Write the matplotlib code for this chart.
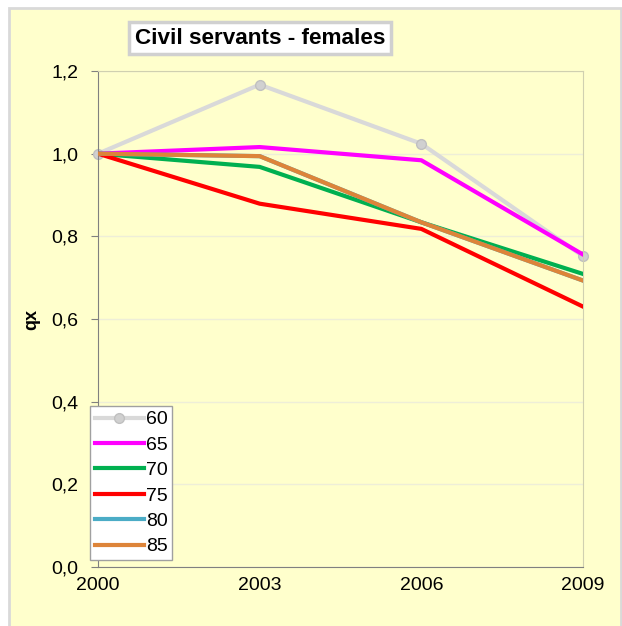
import matplotlib
matplotlib.use("Agg")
import matplotlib.pyplot as plt
from matplotlib.ticker import FuncFormatter

plt.rcParams['font.family'] = ['Liberation Sans', 'DejaVu Sans']

# data
years = [2000, 2003, 2006, 2009]
labels = ['60', '65', '70', '75', '80', '85']
q60 = [1.0, 1.167, 1.024, 0.752]
q65 = [1.0, 1.016, 0.984, 0.756]
q70 = [1.0, 0.968, 0.834, 0.709]
q75 = [1.0, 0.879, 0.818, 0.630]
q80 = [1.0, 0.994, 0.834, 0.693]
q85 = [1.0, 0.994, 0.834, 0.693]
colors = ['#D9D9D9', '#FF00FF', '#00B050', '#FF0000', '#4BACC6', '#DD8439']

bg = '#FFFFCC'
W, H = 622, 626
fig = plt.figure(figsize=(W / 100, H / 100), dpi=100, facecolor='white')

# yellow chart area with a thin grey frame (behind the axes)
fig.patches.append(plt.Rectangle((9 / W, -0.01), (621 - 9) / W, 1 - 8 / H + 0.01,
                                 transform=fig.transFigure, fc=bg,
                                 ec='#D9D9D9', lw=2, zorder=-10))

ax = fig.add_axes([98 / W, 1 - 567 / H, (583 - 98) / W, (567 - 71) / H])
ax.set_facecolor(bg)

series = [q60, q65, q70, q75, q80, q85]
for i, (lab, vals) in enumerate(zip(labels, series)):
    if i == 0:
        ax.plot(years, vals, color=colors[i], lw=3, marker='o', ms=7,
                mfc='#D0D0D0', mec='#C0C0C0', label=lab, zorder=2,
                clip_on=False)
    else:
        ax.plot(years, vals, color=colors[i], lw=3, label=lab, zorder=3)

ax.set_xlim(2000, 2009)
ax.set_ylim(0, 1.2)
ax.set_xticks(years)
ax.set_yticks([0, 0.2, 0.4, 0.6, 0.8, 1.0, 1.2])
ax.yaxis.set_major_formatter(FuncFormatter(lambda v, p: f"{v:.1f}".replace('.', ',')))
ax.grid(axis='y', color='#EEEED8', lw=1)
ax.set_axisbelow(True)
ax.tick_params(axis='y', labelsize=14, colors='#808080', labelcolor='black',
               length=5, pad=9)
ax.tick_params(axis='x', labelsize=14, labelcolor='black', length=0, pad=7)
for s in ['left', 'bottom']:
    ax.spines[s].set_color('#808080')
for s in ['top', 'right']:
    ax.spines[s].set_color('#D0D0B0')

ax.set_ylabel('qx', fontsize=13, fontweight='bold', labelpad=8)

leg = ax.legend(loc='lower left', bbox_to_anchor=(-0.03, 0.0), fontsize=14,
                handlelength=2.5, handletextpad=0.1, labelspacing=0.4,
                borderpad=0.25, borderaxespad=0.35, fancybox=False,
                framealpha=1, edgecolor='#A0A0A0')
leg.get_frame().set_linewidth(1)

fig.text(260 / W, 1 - 38 / H, 'Civil servants - females', fontsize=16.2,
         fontweight='bold', ha='center', va='center',
         bbox=dict(boxstyle='square,pad=0.25', fc='white', ec='#D0D0D0', lw=2.5))

fig.savefig('out.png', dpi=100, facecolor='white')
